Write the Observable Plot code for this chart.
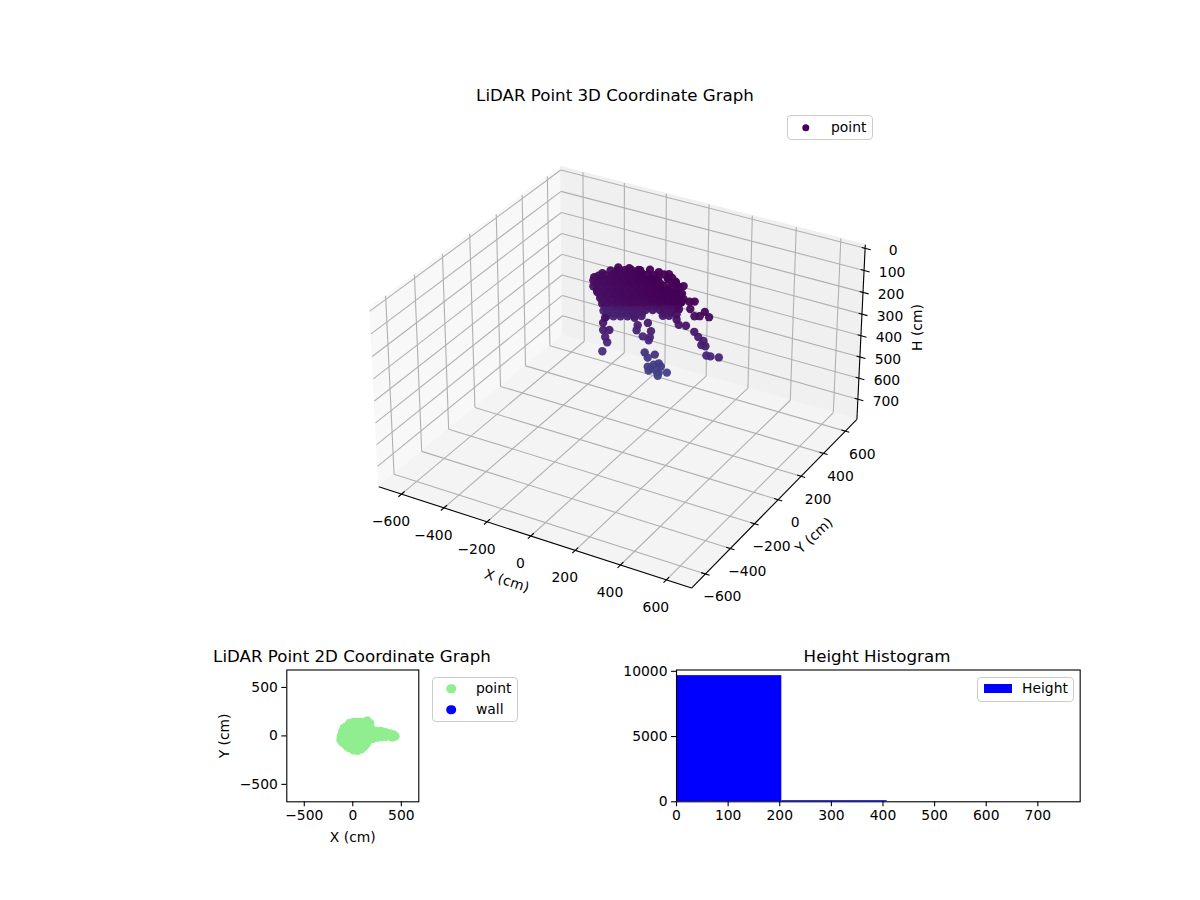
<!DOCTYPE html>
<html>
<head>
<meta charset="utf-8">
<script src="https://cdn.jsdelivr.net/npm/d3@7"></script>
<script src="https://cdn.jsdelivr.net/npm/@observablehq/plot@0.6"></script>
<style>
html,body{margin:0;padding:0;background:#fff}
#fig{position:relative;width:1200px;height:900px;overflow:hidden;font-family:"DejaVu Sans",sans-serif;color:#000;background:#fff}
#fig svg{position:absolute;background:transparent;max-width:none}
.t{position:absolute;transform:translate(-50%,-50%);font-size:16.67px;white-space:nowrap}
.box{position:absolute;background:rgba(255,255,255,.8);border:1px solid #ccc;border-radius:4px;box-sizing:border-box}
.lt{position:absolute;transform:translateY(-50%);font-size:13.9px;white-space:nowrap}
.ld{position:absolute;border-radius:50%;transform:translate(-50%,-50%)}
</style>
</head>
<body>
<div id="fig"></div>
<script>
// ---------- values ----------
const axisTicks = [-600,-400,-200,0,200,400,600];
const heightTicks = [0,100,200,300,400,500,600,700];
const planLimit = 680, heightLimit = 780;

// 3D cloud: x (cm), y (cm), height (cm)
const cloudX = [
 90,50,130,-150,-100,-50,-170,0,
 -130,-98,-66,-34,-2,
 -114,-82,-50,-18,14,
 -168,-136,-104,-72,-40,-8,24,56,88,117,
 -152,-120,-88,-56,-24,8,40,72,104,133,
 -174,-142,-110,-78,-46,-14,18,50,82,114,146,150,
 -158,-126,-94,-62,-30,2,34,66,98,130,162,166,
 -156,-124,-92,-60,-28,4,36,68,100,132,164,196,228,190,
 -140,-108,-76,-44,-12,20,52,84,116,148,180,212,244,206,
 -121,-89,-57,-25,7,39,71,103,135,167,199,231,251,
 -105,-73,-41,-9,23,55,87,119,151,183,215,247,267,
 -90,-58,-26,6,38,70,102,134,166,198,230,260,
 -74,-42,-10,22,54,86,118,150,182,214,246,276,
 -63,-31,1,33,65,97,129,161,193,225,257,286,
 -47,-15,17,49,81,113,145,177,209,241,273,
 -116,-84,-52,-20,12,44,76,108,140,172,200,
 -100,-68,-36,-4,28,60,156,188,
 -102,-70,-38,-6,26,58,154,182,
 218,432,395,377,372,354,363,340,322,285,253,243,322,345,367,386,322,299,303,253,243,
 115,142,165,175,129,152,165,202,161,119,101,115,147,
 69,115,64,129,92,119,124,55,
 -22,0,-9,-18,10,-18,-9
];
const cloudY = [
 130,130,140,100,140,140,70,140,
 130,130,130,130,130,
 130,130,130,130,130,
 100,100,100,100,100,100,100,100,100,124,
 100,100,100,100,100,100,100,100,100,124,
 70,70,70,70,70,70,70,70,70,70,105,130,
 70,70,70,70,70,70,70,70,70,70,105,130,
 40,40,40,40,40,40,40,40,40,40,40,40,40,90,
 40,40,40,40,40,40,40,40,40,40,40,40,40,90,
 10,10,10,10,10,10,10,10,10,10,10,10,10,
 10,10,10,10,10,10,10,10,10,10,10,10,10,
 -20,-20,-20,-20,-20,-20,-20,-20,-20,-20,-20,-20,
 -20,-20,-20,-20,-20,-20,-20,-20,-20,-20,-20,-20,
 -50,-50,-50,-50,-50,-50,-50,-50,-50,-50,-50,-50,
 -50,-50,-50,-50,-50,-50,-50,-50,-50,-50,-50,
 50,50,50,50,50,50,50,50,50,50,50,
 50,50,50,50,50,50,50,50,
 50,50,50,50,50,50,50,50,
 100,0,0,0,0,0,0,0,0,0,0,0,0,0,0,0,0,0,0,0,0,
 0,0,0,0,0,0,0,0,0,0,0,0,0,
 0,0,0,0,0,0,0,0,
 -120,-120,-120,-120,-120,-120,-120
];
const cloudH = [
 5,5,8,60,40,30,70,25,
 57,47,38,29,20,
 69,59,50,41,32,
 76,66,57,48,39,29,20,11,5,5,
 88,78,69,60,51,41,32,23,17,17,
 85,76,67,58,48,39,30,21,11,5,10,15,
 97,88,79,70,60,51,42,33,23,17,22,27,
 93,84,74,65,56,46,37,28,19,9,5,5,5,10,
 105,96,86,77,68,58,49,40,31,21,17,17,17,22,
 95,86,76,67,58,49,39,30,21,12,5,5,8,
 107,98,88,79,70,61,51,42,33,24,17,17,20,
 99,89,80,71,62,52,43,34,25,15,6,5,
 111,101,92,83,74,64,55,46,37,27,18,17,
 103,94,85,76,66,57,48,39,29,20,11,5,
 115,106,97,88,78,69,60,51,41,32,23,
 197,187,178,169,160,150,141,132,123,113,105,
 205,196,187,178,169,159,132,122,
 219,210,201,192,182,173,145,137,
 19,229,235,236,196,196,175,164,146,129,134,113,77,70,45,63,12,19,50,65,90,
 362,345,333,344,367,369,375,364,390,379,301,321,298,
 187,164,211,197,231,241,226,158,
 272,225,204,175,167,142,117
];

// 2D plan view points
const planX = [-120,-89,-31,48,110,150,175,185,288,384,435,407,339,253,168,116,48,-38,-82,-123,
 -40,20,80,-80,-20,40,100,-80,-20,40,100,160,220,-40,20,80,140,280,340,
 -105,-55,10,80,180,240,335,420,300,210,140,85,10,-60,-105,
 -50,10,70,130,-50,10,70,130,10,70,130,10,70,-50,250,310,370];
const planY = [0,82,130,140,140,154,130,55,48,20,-3,-14,-7,-14,-41,-110,-150,-123,-82,-41,
 -100,-100,-100,-40,-40,-40,-40,20,20,20,20,20,20,80,80,80,80,15,10,
 45,100,140,140,90,50,35,10,-10,-25,-80,-135,-145,-105,-65,
 -10,-10,-10,-10,50,50,50,50,110,110,110,-70,-70,-70,15,15,5];

// histogram
const binStart = [0,204,408,612];
const binEnd = [204,408,612,816];
const binCount = [9668,85,4,1];

// ---------- colours ----------
const pointGreen = "lightgreen", wallBlue = "blue";
const fontStack = '"DejaVu Sans",sans-serif';
const baseStyle = {fontFamily:fontStack,fontSize:"13.9px",color:"#000",background:"transparent",overflow:"visible"};

// ---------- matplotlib style 3D projection ----------
const elev = 30*Math.PI/180, azim = -60*Math.PI/180, dist = 10;
const rawAspect = [2*planLimit,2*planLimit,heightLimit];
const norm = Math.hypot(...rawAspect);
const boxSize = rawAspect.map(v=>v*1.8294640721620434/norm);
const w = [Math.cos(elev)*Math.cos(azim),Math.cos(elev)*Math.sin(azim),Math.sin(elev)];
const un = Math.hypot(w[1],w[0]);
const u = [-w[1]/un,w[0]/un,0];
const vv = [w[1]*u[2]-w[2]*u[1], w[2]*u[0]-w[0]*u[2], w[0]*u[1]-w[1]*u[0]];
const dot3 = (a,b)=>a[0]*b[0]+a[1]*b[1]+a[2]*b[2];
function proj(x,y,h){
  const q=[x/(2*planLimit)*boxSize[0], y/(2*planLimit)*boxSize[1], (0.5-h/heightLimit)*boxSize[2]];
  const d=dist-dot3(w,q);
  return [dot3(u,q)/d, dot3(vv,q)/d];
}
const px=(p)=>proj(...p)[0], py=(p)=>proj(...p)[1];

const PL = planLimit*(1+1/24);
const hTop = -heightLimit/48, hBot = heightLimit*(1+1/48);

function seg(a,b){return {a,b};}
const grid=[];
for(const t of axisTicks){
  grid.push(seg([t,-PL,hBot],[t,PL,hBot]), seg([t,PL,hBot],[t,PL,hTop]));
  grid.push(seg([-PL,t,hBot],[PL,t,hBot]), seg([-PL,t,hBot],[-PL,t,hTop]));
}
for(const t of heightTicks){
  grid.push(seg([-PL,-PL,t],[-PL,PL,t]), seg([-PL,PL,t],[PL,PL,t]));
}
const axisLines=[seg([-PL,-PL,hBot],[PL,-PL,hBot]), seg([PL,-PL,hBot],[PL,PL,hBot]), seg([PL,PL,hBot],[PL,PL,hTop])];
const ticks=[
  ...axisTicks.map(t=>seg([t,-PL-22,hBot],[t,-PL+22,hBot])),
  ...axisTicks.map(t=>seg([PL-18,t,hBot],[PL+18,t,hBot])),
  ...heightTicks.map(t=>seg([PL-15,PL,t],[PL+25,PL,t]))
];
const paneLeft=[[-PL,-PL,hTop],[-PL,PL,hTop],[-PL,PL,hBot],[-PL,-PL,hBot],[-PL,-PL,hTop]];
const paneBack=[[-PL,PL,hTop],[PL,PL,hTop],[PL,PL,hBot],[-PL,PL,hBot],[-PL,PL,hTop]];
const paneFloor=[[-PL,-PL,hBot],[PL,-PL,hBot],[PL,PL,hBot],[-PL,PL,hBot],[-PL,-PL,hBot]];
const cloud=cloudX.map((x,i)=>({p:[x,cloudY[i],cloudH[i]],h:cloudH[i]}));

const scale3=2852, cx=622, cy=365, W3=1200, H3=640;
const fig=document.getElementById("fig");

const linkOpts=(o)=>({x1:d=>px(d.a),y1:d=>py(d.a),x2:d=>px(d.b),y2:d=>py(d.b),...o});
const paneMark=(pts,col)=>Plot.line(pts,{x:px,y:py,fill:col,stroke:col,strokeWidth:1.4});

const chart3d=Plot.plot({
  width:W3,height:H3,margin:0,
  style:{...baseStyle,left:"0px",top:"0px"},
  x:{axis:null,domain:[-cx/scale3,(W3-cx)/scale3],range:[0,W3]},
  y:{axis:null,domain:[(cy-H3)/scale3,cy/scale3],range:[H3,0]},
  color:{type:"pow",exponent:1.2,scheme:"viridis",domain:[0,1500]},
  marks:[
    paneMark(paneLeft,"#f8f8f8"),
    paneMark(paneBack,"#f0f0f0"),
    paneMark(paneFloor,"#f4f4f4"),
    Plot.link(grid,linkOpts({stroke:"#b0b0b0",strokeWidth:1.1})),
    Plot.link(axisLines,linkOpts({stroke:"#000",strokeWidth:1.1})),
    Plot.link(ticks,linkOpts({stroke:"#000",strokeWidth:1.1})),
    Plot.text(axisTicks,{x:t=>px([t,-PL,hBot]),y:t=>py([t,-PL,hBot]),text:d=>d3.format("d")(d),dx:-10.5,dy:27.5,fontSize:13.9,textAnchor:"middle"}),
    Plot.text(axisTicks,{x:t=>px([PL,t,hBot]),y:t=>py([PL,t,hBot]),text:d=>d3.format("d")(d),dx:17,dy:23,fontSize:13.9,textAnchor:"middle"}),
    Plot.text(heightTicks,{x:t=>px([PL,PL,t]),y:t=>py([PL,PL,t]),text:d=>String(d),dx:28,dy:2,fontSize:13.9,textAnchor:"middle"}),
    Plot.text(["X (cm)"],{x:()=>px([0,-PL,hBot]),y:()=>py([0,-PL,hBot]),text:d=>d,dx:-24,dy:45,rotate:18,fontSize:13.9,textAnchor:"middle"}),
    Plot.text(["Y (cm)"],{x:()=>px([PL,0,hBot]),y:()=>py([PL,0,hBot]),text:d=>d,dx:36,dy:36,rotate:-43,fontSize:13.9,textAnchor:"middle"}),
    Plot.text(["H (cm)"],{x:()=>px([PL,PL,390]),y:()=>py([PL,PL,390]),text:d=>d,dx:57,dy:-6,rotate:-90,fontSize:13.9,textAnchor:"middle"}),
    Plot.dot(cloud,{x:d=>px(d.p),y:d=>py(d.p),r:4.2,fill:d=>d.h,fillOpacity:0.95,stroke:"none"})
  ]
});
fig.appendChild(chart3d);

// 2D plan plot
const ml=86.3, mt=9.5, mb=58, mr=12;
const planW=132, planH=131.8;
const plan=Plot.plot({
  width:planW+ml+mr,height:planH+mt+mb,
  marginLeft:ml,marginTop:mt,marginBottom:mb,marginRight:mr,
  style:{...baseStyle,left:(286.3-ml)+"px",top:(669.5-mt)+"px"},
  x:{domain:[-planLimit,planLimit]},
  y:{domain:[-planLimit,planLimit]},
  marks:[
    Plot.dot(planX,{x:d=>d,y:(d,i)=>planY[i],r:4.6,fill:pointGreen,stroke:"none"}),
    Plot.frame({stroke:"#000",strokeWidth:1.1}),
    Plot.axisX({ticks:[-500,0,500],tickSize:5,tickPadding:3,strokeWidth:1.1,fontSize:13.9,tickFormat:"d",label:"X (cm)",labelAnchor:"center",labelArrow:"none",labelOffset:40}),
    Plot.axisY({ticks:[-500,0,500],tickSize:5,tickPadding:4,strokeWidth:1.1,fontSize:13.9,tickFormat:"d",label:"Y (cm)",labelAnchor:"center",labelArrow:"none",labelOffset:68})
  ]
});
fig.appendChild(plan);

// Histogram
const hml=50,hmr=12,hmt=9.5,hmb=30,histW=403.7,histH=131.8;
const histMax=782;
const hist=Plot.plot({
  width:histW+hml+hmr,height:histH+hmt+hmb,
  marginLeft:hml,marginRight:hmr,marginTop:hmt,marginBottom:hmb,
  style:{...baseStyle,left:(676.3-hml)+"px",top:(669.5-hmt)+"px"},
  x:{domain:[0,histMax]},
  y:{domain:[0,10100]},
  marks:[
    Plot.rectY(binCount,{x1:(d,i)=>binStart[i],x2:(d,i)=>Math.min(binEnd[i],histMax),y1:0,y2:d=>d,fill:wallBlue,inset:0}),
    Plot.frame({stroke:"#000",strokeWidth:1.1}),
    Plot.axisX({ticks:[0,100,200,300,400,500,600,700],tickSize:5,tickPadding:3,strokeWidth:1.1,fontSize:13.9,tickFormat:"d",label:null}),
    Plot.axisY({ticks:[0,5000,10000],tickSize:5,tickPadding:4,strokeWidth:1.1,fontSize:13.9,tickFormat:"d",label:null})
  ]
});
fig.appendChild(hist);

// Titles and legends (HTML)
function title(text,x,y){const e=document.createElement("div");e.className="t";e.textContent=text;e.style.left=x+"px";e.style.top=y+"px";fig.appendChild(e);}
function legendBox(x,y,w,h){const e=document.createElement("div");e.className="box";Object.assign(e.style,{left:x+"px",top:y+"px",width:w+"px",height:h+"px"});fig.appendChild(e);}
function ltext(text,x,y){const e=document.createElement("div");e.className="lt";e.textContent=text;e.style.left=x+"px";e.style.top=y+"px";fig.appendChild(e);}
function ldot(col,x,y,r){const e=document.createElement("div");e.className="ld";Object.assign(e.style,{left:x+"px",top:y+"px",width:2*r+"px",height:2*r+"px",background:col});fig.appendChild(e);}
title("LiDAR Point 3D Coordinate Graph",615,95);
title("LiDAR Point 2D Coordinate Graph",352,656);
title("Height Histogram",877,656);
legendBox(787,115,86,25); ldot(d3.interpolateViridis(0),806,127.5,3.7); ltext("point",831,127);
legendBox(431.5,676.5,86,45); ldot(pointGreen,451,688.5,4.8); ltext("point",476,688); ldot(wallBlue,451,709.5,4.8); ltext("wall",476,709);
legendBox(977,676.5,96.5,25);
{const e=document.createElement("div");Object.assign(e.style,{position:"absolute",left:"983.5px",top:"683.5px",width:"28px",height:"9.5px",background:wallBlue});fig.appendChild(e);}
ltext("Height",1022,688);
</script>
</body>
</html>
